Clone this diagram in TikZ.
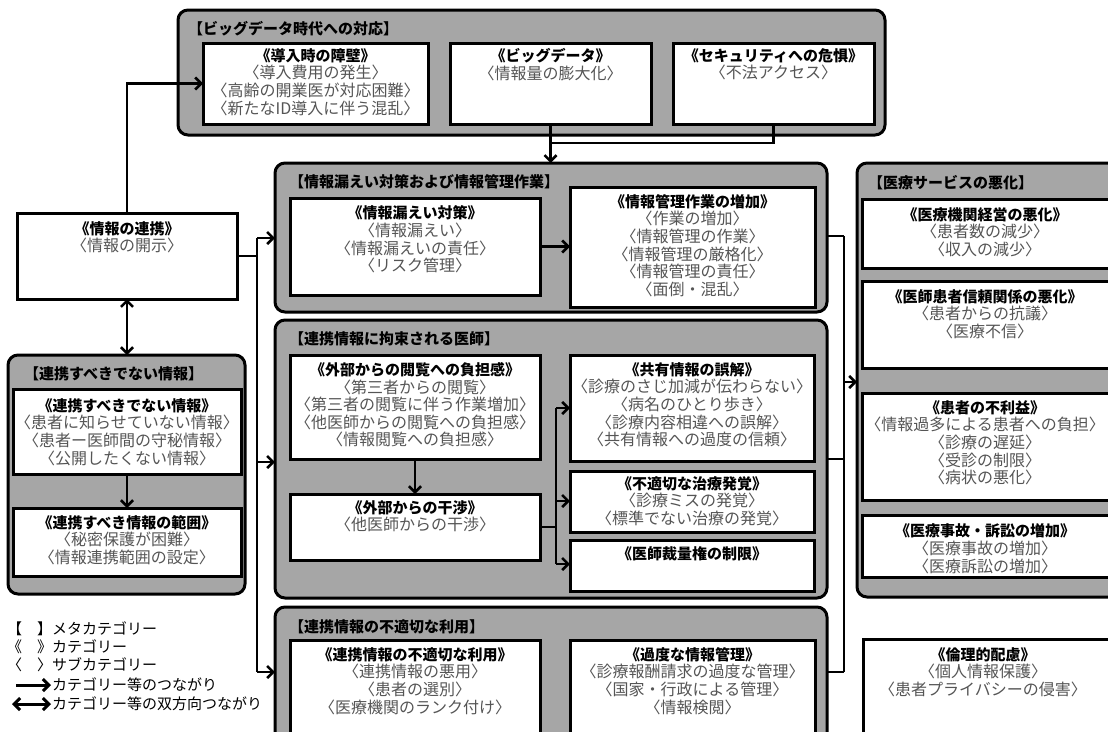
\documentclass[tikz,border=0pt]{standalone}
\usepackage{fontspec}
\newfontfamily\jp{Noto Sans CJK JP}
\usetikzlibrary{arrows.meta}
\definecolor{grpfill}{RGB}{166,166,166}
\definecolor{subgray}{RGB}{85,85,85}
\newcommand{\ct}[1]{{\color{black}\bfseries\fontsize{15}{17.6}\selectfont #1}}
\newcommand{\ibox}[5]{\node[ibox, minimum width={(#4-#2)*1pt}, minimum height={(#5-#3)*1pt}] (#1) at ({(#2+#4)/2},{(#3+#5)/2}) {};}
\newcommand{\gbox}[5]{\node[gbox, minimum width={(#4-#2)*1pt}, minimum height={(#5-#3)*1pt}] (#1) at ({(#2+#4)/2},{(#3+#5)/2}) {};}
\newcommand{\itext}[4]{\node[tx] (#1) at (#2,{#3-7.8}) {#4};}
\tikzset{
 gbox/.style={draw=black, line width=3pt, fill=grpfill, rounded corners=10pt, inner sep=0pt, outer sep=0pt},
 ibox/.style={draw=black, line width=3pt, fill=white, inner sep=0pt, outer sep=0pt},
 tx/.style={font=\jp\fontsize{16}{17.6}\selectfont, text=subgray, align=center, inner sep=0pt, anchor=north},
 gt/.style={font=\jp\bfseries\fontsize{15}{17}\selectfont, anchor=west, inner sep=0pt},
 leg/.style={font=\jp\fontsize{15}{17}\selectfont, anchor=west, inner sep=0pt},
 conn/.style={line width=2.6pt, draw=black},
 arr/.style={-{Straight Barb[length=6pt,width=12pt]}},
 darr/.style={{Straight Barb[length=6pt,width=12pt]}-{Straight Barb[length=6pt,width=12pt]}},
 legarr/.style={line width=3pt},
}
\begin{document}
\begin{tikzpicture}[x=1pt,y=-1pt]
\useasboundingbox (0,0) rectangle (1108,731);
\clip (0,0) rectangle (1108,731);
\fill[white] (0,0) rectangle (1108,731);
% groups
\gbox{G1}{178}{10}{885}{135}
\gbox{G2}{275}{163}{827}{312}
\gbox{G3}{275}{320}{827}{598}
\gbox{G4}{275}{607}{827}{760}
\gbox{G5}{857}{163}{1130}{597}
\gbox{G6}{8}{355}{245}{594}
\node[gt] (gt1) at (188,29) {【ビッグデータ時代への対応】};
\node[gt] (gt2) at (289,182) {【情報漏えい対策および情報管理作業】};
\node[gt] (gt3) at (289,339) {【連携情報に拘束される医師】};
\node[gt] (gt4) at (289,627) {【連携情報の不適切な利用】};
\node[gt] (gt5) at (868,183) {【医療サービスの悪化】};
\node[gt] (gt6) at (24,374) {【連携すべきでない情報】};
% boxes
\ibox{B1}{203}{43}{428}{124}
\ibox{B2}{450}{43}{651}{124}
\ibox{B3}{673}{43}{874}{124}
\ibox{B18}{17}{213}{237}{299}
\ibox{B19}{13}{389}{241}{474}
\ibox{B20}{13}{508}{241}{576}
\ibox{B4}{290}{198}{540}{295}
\ibox{B5}{570}{187}{815}{307}
\ibox{B6}{290}{355}{540}{459}
\ibox{B7}{290}{494}{540}{560}
\ibox{B8}{570}{355}{814}{461}
\ibox{B9}{570}{471}{814}{532}
\ibox{B10}{570}{540}{814}{591}
\ibox{B11}{290}{640}{540}{760}
\ibox{B12}{570}{640}{815}{760}
\ibox{B13}{862}{199}{1125}{268}
\ibox{B14}{862}{281}{1125}{368}
\ibox{B15}{862}{393}{1125}{500}
\ibox{B16}{862}{515}{1125}{577}
\ibox{B17}{863}{639}{1125}{760}
% texts
\itext{T1}{315.5}{56}{\ct{《導入時の障壁》}\\〈導入費用の発生〉\\〈高齢の開業医が対応困難〉\\〈新たなID導入に伴う混乱〉}
\itext{T2}{550.5}{56}{\ct{《ビッグデータ》}\\〈情報量の膨大化〉}
\itext{T3}{773.5}{56}{\ct{《セキュリティへの危惧》}\\〈不法アクセス〉}
\itext{T18}{127}{229}{\ct{《情報の連携》}\\〈情報の開示〉}
\itext{T19}{127}{406}{\ct{《連携すべきでない情報》}\\〈患者に知らせていない情報〉\\〈患者ー医師間の守秘情報〉\\〈公開したくない情報〉}
\itext{T20}{127}{523}{\ct{《連携すべき情報の範囲》}\\〈秘密保護が困難〉\\〈情報連携範囲の設定〉}
\itext{T4}{415}{213.5}{\ct{《情報漏えい対策》}\\〈情報漏えい〉\\〈情報漏えいの責任〉\\〈リスク管理〉}
\itext{T5}{692.5}{202}{\ct{《情報管理作業の増加》}\\〈作業の増加〉\\〈情報管理の作業〉\\〈情報管理の厳格化〉\\〈情報管理の責任〉\\〈面倒・混乱〉}
\itext{T6}{415}{370}{\ct{《外部からの閲覧への負担感》}\\〈第三者からの閲覧〉\\〈第三者の閲覧に伴う作業増加〉\\〈他医師からの閲覧への負担感〉\\〈情報閲覧への負担感〉}
\itext{T7}{415}{508}{\ct{《外部からの干渉》}\\〈他医師からの干渉〉}
\itext{T8}{692}{370}{\ct{《共有情報の誤解》}\\〈診療のさじ加減が伝わらない〉\\〈病名のひとり歩き〉\\〈診療内容相違への誤解〉\\〈共有情報への過度の信頼〉}
\itext{T9}{692}{484}{\ct{《不適切な治療発覚》}\\〈診療ミスの発覚〉\\〈標準でない治療の発覚〉}
\itext{T10}{692}{554}{\ct{《医師裁量権の制限》}}
\itext{T11}{415}{655}{\ct{《連携情報の不適切な利用》}\\〈連携情報の悪用〉\\〈患者の選別〉\\〈医療機関のランク付け〉}
\itext{T12}{692.5}{655}{\ct{《過度な情報管理》}\\〈診療報酬請求の過度な管理〉\\〈国家・行政による管理〉\\〈情報検閲〉}
\itext{T13}{985}{215}{\ct{《医療機関経営の悪化》}\\〈患者数の減少〉\\〈収入の減少〉}
\itext{T14}{985}{297}{\ct{《医師患者信頼関係の悪化》}\\〈患者からの抗議〉\\〈医療不信〉}
\itext{T15}{985}{408}{\ct{《患者の不利益》}\\〈情報過多による患者への負担〉\\〈診療の遅延〉\\〈受診の制限〉\\〈病状の悪化〉}
\itext{T16}{985}{531.5}{\ct{《医療事故・訴訟の増加》}\\〈医療事故の増加〉\\〈医療訴訟の増加〉}
\itext{T17}{983}{655}{\ct{《倫理的配慮》}\\〈個人情報保護〉\\〈患者プライバシーの侵害〉}
% connectors top
\coordinate (jA) at (552,143);
\draw[conn] (B3.south) |- (jA);
\draw[conn,arr] (B2.south) -- (B2.south |- G2.north);
\draw[conn,arr] (B18.north) |- (B1.west);
\draw[conn,darr] (B18.south) -- (B18.south |- G6.north);
\draw[conn,arr] (B19.south) -- (B20.north);
% left bus
\coordinate (L0) at (257,256);
\coordinate (L1) at (257,238);
\coordinate (L2) at (257,462);
\coordinate (L3) at (257,672);
\draw[conn] (B18.east) -- (L0);
\draw[conn] (L1) -- (L3);
\draw[conn,arr] (L1) -- (L1 -| G2.west);
\draw[conn,arr] (L2) -- (L2 -| G3.west);
\draw[conn,arr] (L3) -- (L3 -| G4.west);
% inner arrows
\draw[conn,arr] (B4.east) -- (B4.east -| B5.west);
\draw[conn,arr] (B6.south) -- (B7.north);
\coordinate (M0) at (556,527);
\coordinate (M1) at (556,408);
\coordinate (M2) at (556,501);
\coordinate (M3) at (556,564);
\draw[conn] (B7.east) -- (M0);
\draw[conn] (M1) -- (M3);
\draw[conn,arr] (M1) -- (M1 -| B8.west);
\draw[conn,arr] (M2) -- (M2 -| B9.west);
\draw[conn,arr] (M3) -- (M3 -| B10.west);
% right bus
\coordinate (R1) at (844,236);
\coordinate (R2) at (844,459);
\coordinate (R3) at (844,672);
\coordinate (RA) at (844,382);
\draw[conn] (R1 -| G2.east) -- (R1);
\draw[conn] (R2 -| G3.east) -- (R2);
\draw[conn] (R3 -| G4.east) -- (R3);
\draw[conn] (R1) -- (R3);
\draw[conn,arr] (RA) -- (RA -| G5.west);
% legend
\node[leg] (lg1) at (7,629) {【　】メタカテゴリー};
\node[leg] (lg2) at (7,647) {《　》カテゴリー};
\node[leg] (lg3) at (7,665) {〈　〉サブカテゴリー};
\node[leg] (lg4) at (52,685) {カテゴリー等のつながり};
\node[leg] (lg5) at (52,704) {カテゴリー等の双方向つながり};
\coordinate (la1) at (16,685);
\coordinate (lb1) at (12,704);
\draw[conn,legarr,arr] (la1) -- ([xshift=-1pt]lg4.west);
\draw[conn,legarr,darr] (lb1) -- ([xshift=-1pt]lg5.west);
\end{tikzpicture}
\end{document}
